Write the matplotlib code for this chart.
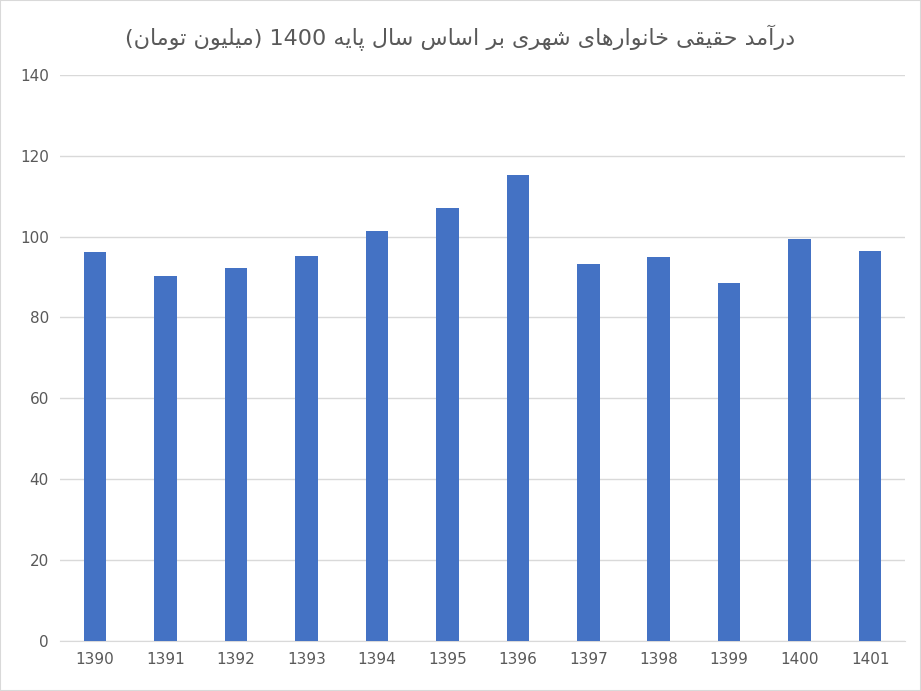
import unicodedata
import matplotlib
matplotlib.use("Agg")
import matplotlib.pyplot as plt

years = ["1390","1391","1392","1393","1394","1395","1396","1397","1398","1399","1400","1401"]
values = [96.2, 90.3, 92.3, 95.3, 101.4, 107.1, 115.3, 93.3, 95.0, 88.6, 99.5, 96.5]
title_logical = "درآمد حقیقی خانوارهای شهری بر اساس سال پایه 1400 (میلیون تومان)"

RIGHT_ONLY = set("اآدذرزژو")

def is_ar(c):
    return '\u0600' <= c <= '\u06FF'

def form(c, f):
    try:
        return unicodedata.lookup(unicodedata.name(c) + " " + f + " FORM")
    except KeyError:
        return c

def shape(s):
    out = []
    for i, c in enumerate(s):
        if not is_ar(c):
            out.append(c); continue
        prev = s[i-1] if i > 0 else ""
        nxt = s[i+1] if i+1 < len(s) else ""
        jp = bool(prev) and is_ar(prev) and prev not in RIGHT_ONLY
        jn = c not in RIGHT_ONLY and bool(nxt) and is_ar(nxt)
        if jp and jn: out.append(form(c, "MEDIAL"))
        elif jp: out.append(form(c, "FINAL"))
        elif jn: out.append(form(c, "INITIAL"))
        else: out.append(form(c, "ISOLATED"))
    vis = "".join(reversed(out))
    # restore digit runs, mirror parens
    res, run = [], ""
    for c in vis:
        if c.isdigit():
            run += c
        else:
            if run: res.append(run[::-1]); run = ""
            res.append({"(": ")", ")": "("}.get(c, c))
    if run: res.append(run[::-1])
    return "".join(res)

fig = plt.figure(figsize=(9.21, 6.91), dpi=100)
ax = fig.add_axes([0.065, 0.072, 0.918, 0.82])
x = range(len(years))
ax.bar(x, values, width=0.32, color="#4472C4", zorder=3)
ax.set_xticks(list(x))
ax.set_xticklabels(years)
ax.set_ylim(0, 140)
ax.set_yticks(range(0, 141, 20))
ax.set_xlim(-0.5, len(years) - 0.5)
ax.grid(axis="y", color="#D9D9D9", linewidth=1, zorder=0)
for s in ["top", "right", "left"]:
    ax.spines[s].set_visible(False)
ax.spines["bottom"].set_color("#D9D9D9")
ax.tick_params(length=0, colors="#595959", labelsize=11, pad=8)
fig.text(0.5, 0.945, shape(title_logical), ha="center", va="center",
         fontsize=16, color="#595959", family="DejaVu Sans")
fig.patches.append(plt.Rectangle((0, 0), 1, 1, transform=fig.transFigure,
                                 fill=False, edgecolor="#D9D9D9", lw=1.5))
fig.savefig("out.png", dpi=100)
